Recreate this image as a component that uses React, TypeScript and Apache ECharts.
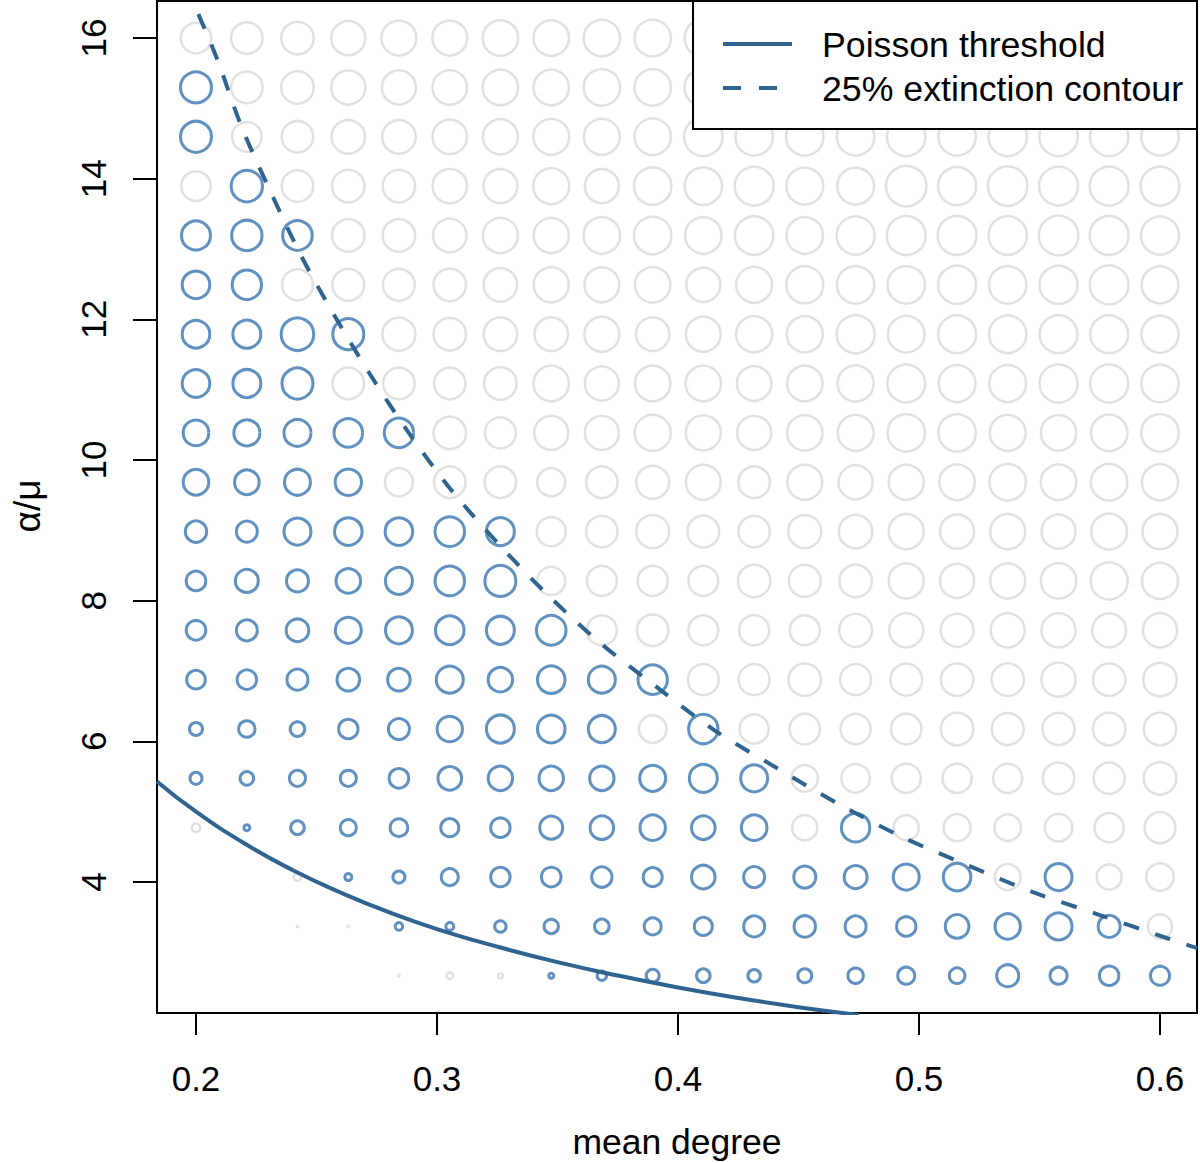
import React, { useEffect, useRef } from "react";
import * as echarts from "echarts";

// x positions of the grid (mean degree)
const meanDegree = [
  0.2, 0.2211, 0.2421, 0.2632, 0.2842, 0.3053, 0.3263, 0.3474, 0.3684, 0.3895,
  0.4105, 0.4316, 0.4526, 0.4737, 0.4947, 0.5158, 0.5368, 0.5579, 0.5789, 0.6,
];
// y positions of the grid (alpha/mu), listed from top row to bottom row
const alphaOverMu = [
  16.0, 15.298, 14.596, 13.895, 13.193, 12.491, 11.789, 11.088, 10.386, 9.684,
  8.982, 8.281, 7.579, 6.877, 6.175, 5.474, 4.772, 4.07, 3.368, 2.667,
];
// B = blue circle, G = grey circle, . = nothing (top row first)
const cellClass = [
  "GGGGGGGGGGGGGGGGGGGG",
  "BGGGGGGGGGGGGGGGGGGG",
  "BGGGGGGGGGGGGGGGGGGG",
  "GBGGGGGGGGGGGGGGGGGG",
  "BBBGGGGGGGGGGGGGGGGG",
  "BBGGGGGGGGGGGGGGGGGG",
  "BBBBGGGGGGGGGGGGGGGG",
  "BBBGGGGGGGGGGGGGGGGG",
  "BBBBBGGGGGGGGGGGGGGG",
  "BBBBGGGGGGGGGGGGGGGG",
  "BBBBBBBGGGGGGGGGGGGG",
  "BBBBBBBGGGGGGGGGGGGG",
  "BBBBBBBBGGGGGGGGGGGG",
  "BBBBBBBBBBGGGGGGGGGG",
  "BBBBBBBBBGBGGGGGGGGG",
  "BBBBBBBBBBBBGGGGGGGG",
  "GBBBBBBBBBBBGBGGGGGG",
  "..GBBBBBBBBBBBBBGBGG",
  "..GGBBBBBBBBBBBBBBBG",
  "....GGGBBBBBBBBBBBBB",
];
// circle radius (px, outer) per cell, top row first
const radius = [
  [16.5, 17, 17.5, 18.3, 18.7, 18.7, 19, 19, 19.5, 19.5, 20, 20, 20, 20, 20, 20, 20, 20, 20, 20],
  [17, 17, 17.5, 18.3, 18.3, 18.5, 19, 19, 19.5, 19.5, 20, 20, 20, 20, 20, 20, 20, 20, 20, 20],
  [17, 16, 17, 18, 18, 18.5, 18.8, 19.2, 19.2, 19.5, 20.5, 20, 20, 20, 20.5, 20, 20.5, 20.5, 20.5, 20],
  [16, 17.2, 17, 17.5, 17.5, 18.5, 18.3, 19.2, 18.3, 20, 20, 20.7, 19.7, 19.7, 21.5, 20.3, 21, 20.7, 20.7, 20.7],
  [16, 16.7, 16.3, 17.5, 17.5, 18, 18.8, 18.8, 19.5, 20, 19.5, 20.5, 19.5, 20.3, 20.7, 20.7, 20.5, 21, 20.7, 20.3],
  [15.3, 16.2, 16.7, 17.2, 17.2, 17.5, 18, 18.8, 18.7, 19, 18.3, 19.2, 19.8, 20, 20, 20.3, 20, 20.3, 20.7, 19.7],
  [15.3, 15.5, 17.8, 17, 17.8, 17.5, 18, 18, 18.7, 18, 18.7, 19.3, 19.3, 20.3, 19.5, 20.2, 20, 20.2, 20.2, 19.8],
  [15.3, 15.5, 17, 17, 17, 17, 17.5, 19, 18.3, 19, 19, 18.5, 19, 19.3, 20.2, 19.7, 19.7, 20.3, 20.3, 20],
  [14.3, 14.5, 15, 15.8, 16.2, 17.5, 16.7, 18.3, 18.3, 19.3, 18.8, 18.3, 19, 19.2, 20, 20, 19.2, 19, 19.5, 20],
  [14.3, 13.8, 14.5, 14.7, 15.3, 17, 17, 15.3, 17, 17.7, 18.7, 17, 18.7, 18.3, 18.8, 19, 19.5, 19, 19.5, 19.3],
  [12.2, 12, 15, 15.3, 15.3, 16.3, 15.5, 15.8, 17, 17.8, 17.2, 17, 17.8, 18, 18.8, 18.3, 18.8, 18.3, 19.2, 18.8],
  [11.3, 13, 12.5, 13.8, 15, 16.3, 17, 15.3, 16.2, 16.3, 16.2, 17.5, 17.2, 17.5, 18.8, 18.3, 18.8, 19, 19.8, 19.2],
  [11.3, 12, 12.8, 14.5, 15, 15.8, 15.5, 16.3, 16.2, 17, 16.2, 16.3, 16.2, 17.7, 18.3, 17.7, 18.3, 18.3, 18.2, 18.3],
  [10.8, 11.2, 12, 12.8, 12.8, 15, 13.7, 15.3, 15, 16.2, 16.7, 16.7, 17.5, 16.7, 17.2, 17.5, 17.5, 18.3, 17.5, 18],
  [8, 9.7, 8.8, 11.2, 12, 14.2, 15.5, 15.3, 15, 15, 16.2, 15.8, 16.5, 16.3, 16.5, 17.5, 17.2, 17.3, 17.5, 17.5],
  [7.5, 8.3, 9.5, 9.5, 11.3, 13.3, 13.7, 13.7, 13.7, 14.5, 15.5, 15, 14.5, 15.5, 15.8, 15.8, 15.8, 17, 16.8, 17.5],
  [5.5, 4.5, 8.3, 9.5, 10.3, 10.5, 11.2, 13, 13.3, 14.2, 13.3, 14.3, 13.8, 15.7, 13.8, 14.7, 14.5, 15, 15.8, 16.7],
  [0, 0, 5, 5, 7.5, 10, 11.2, 11.3, 11.7, 11, 13.3, 12, 12.5, 13, 14.5, 15.3, 14.2, 15, 13.8, 15],
  [0, 0, 2, 2, 5.3, 5.5, 7.2, 8.7, 8.8, 10, 10.5, 12, 12.2, 12, 11.2, 13.3, 14.2, 15, 12.5, 13.3],
  [0, 0, 0, 0, 2, 4.5, 3.8, 4, 6.2, 8, 8.3, 7.7, 8.5, 9.2, 10, 9.3, 12.5, 10, 11.2, 11],
];

// Poisson threshold curve
const poissonX = [0.1838, 0.2, 0.22, 0.24, 0.26, 0.28, 0.3, 0.325, 0.35, 0.375, 0.4, 0.425, 0.45, 0.475];
const poissonY = [5.43, 5.0, 4.55, 4.17, 3.85, 3.57, 3.33, 3.08, 2.86, 2.67, 2.5, 2.35, 2.22, 2.11];

// 25% extinction contour
const contourX = [0.201, 0.209, 0.219, 0.231, 0.244, 0.257, 0.272, 0.288, 0.306, 0.326, 0.346, 0.368, 0.392, 0.415, 0.441, 0.466, 0.493, 0.52, 0.547, 0.575, 0.603, 0.6154];
const contourY = [16.34, 15.68, 14.73, 13.81, 12.88, 12.08, 11.23, 10.4, 9.57, 8.79, 8.08, 7.39, 6.75, 6.16, 5.62, 5.12, 4.64, 4.24, 3.86, 3.53, 3.2, 3.06];

const xTicks = [0.2, 0.3, 0.4, 0.5, 0.6];
const yTicks = [4, 6, 8, 10, 12, 14, 16];

const legendLabels = ["Poisson threshold", "25% extinction contour"];
const xTitle = "mean degree";
const yTitle = "α/μ";

const FONT = "'Liberation Sans', Arial, Helvetica, sans-serif";
const BLUE = "#3876b0";
const GREY = "#d9d9d9";
const LINE = "#2f6490";

export default function App() {
  const ref = useRef<HTMLDivElement>(null);

  useEffect(() => {
    if (!ref.current) return;
    const chart = echarts.init(ref.current, undefined, { renderer: "svg" });

    const blueData: number[][] = [];
    const greyData: number[][] = [];
    cellClass.forEach((row, i) => {
      for (let j = 0; j < row.length; j++) {
        const c = row[j];
        if (c === ".") continue;
        const pt = [meanDegree[j], alphaOverMu[i], radius[i][j]];
        if (c === "B") blueData.push(pt);
        else greyData.push(pt);
      }
    });

    const option: any = {
      animation: false,
      backgroundColor: "#fff",
      grid: {
        left: 157,
        right: 3,
        top: 1,
        bottom: 150,
        show: true,
        borderColor: "#000",
        borderWidth: 2,
        backgroundColor: "transparent",
      },
      xAxis: {
        type: "value",
        min: 0.18382,
        max: 0.61535,
        splitLine: { show: false },
        axisLine: { show: true, onZero: false, lineStyle: { color: "#000", width: 2 } },
        axisTick: { show: true, customValues: xTicks, length: 22, lineStyle: { color: "#000", width: 2 } },
        axisLabel: {
          customValues: xTicks,
          formatter: (v: number) => v.toFixed(1),
          fontSize: 35,
          fontFamily: FONT,
          color: "#000",
          margin: 48,
        },
      },
      yAxis: {
        type: "value",
        min: 2.137,
        max: 16.527,
        splitLine: { show: false },
        axisLine: { show: true, onZero: false, lineStyle: { color: "#000", width: 2 } },
        axisTick: { show: true, customValues: yTicks, length: 24, lineStyle: { color: "#000", width: 2 } },
        axisLabel: {
          customValues: yTicks,
          formatter: (v: number) => String(Math.round(v)),
          rotate: 90,
          fontSize: 35,
          fontFamily: FONT,
          color: "#000",
          margin: 46,
        },
      },
      series: [
        {
          type: "scatter",
          data: greyData,
          symbol: "circle",
          symbolSize: (v: number[]) => Math.max(2 * v[2] - 2.5, 0.5),
          itemStyle: { color: "rgba(0,0,0,0)", borderColor: GREY, borderWidth: 2.5 },
          z: 2,
        },
        {
          type: "scatter",
          data: blueData,
          symbol: "circle",
          symbolSize: (v: number[]) => Math.max(2 * v[2] - 3, 0.5),
          itemStyle: { color: "rgba(0,0,0,0)", borderColor: BLUE, borderWidth: 3 },
          z: 3,
        },
        {
          type: "line",
          data: poissonX.map((x, i) => [x, poissonY[i]]),
          smooth: true,
          symbol: "none",
          clip: true,
          lineStyle: { color: LINE, width: 4 },
          z: 4,
        },
        {
          type: "line",
          data: contourX.map((x, i) => [x, contourY[i]]),
          smooth: 0.3,
          symbol: "none",
          clip: true,
          lineStyle: { color: LINE, width: 4, type: [16, 17], cap: "butt" },
          z: 4,
        },
      ],
      graphic: [
        {
          type: "rect",
          shape: { x: 693, y: 1, width: 504, height: 128 },
          style: { fill: "#fff", stroke: "#000", lineWidth: 2 },
          z: 100,
        },
        {
          type: "line",
          shape: { x1: 723, y1: 44, x2: 792, y2: 44 },
          style: { stroke: LINE, lineWidth: 4 },
          z: 101,
        },
        {
          type: "line",
          shape: { x1: 723, y1: 88, x2: 777, y2: 88 },
          style: { stroke: LINE, lineWidth: 4, lineDash: [18, 18] },
          z: 101,
        },
        {
          type: "text",
          x: 822,
          y: 45,
          style: { text: legendLabels[0], font: `35.7px ${FONT}`, fill: "#000", textVerticalAlign: "middle", textAlign: "left" },
          z: 101,
        },
        {
          type: "text",
          x: 822,
          y: 89,
          style: { text: legendLabels[1], font: `35.7px ${FONT}`, fill: "#000", textVerticalAlign: "middle", textAlign: "left" },
          z: 101,
        },
        {
          type: "text",
          x: 677,
          y: 1142,
          style: { text: xTitle, font: `35.5px ${FONT}`, fill: "#000", textVerticalAlign: "middle", textAlign: "center" },
          z: 101,
        },
        {
          type: "text",
          x: 27,
          y: 506,
          rotation: Math.PI / 2,
          style: { text: yTitle, font: `37px ${FONT}`, fill: "#000", textVerticalAlign: "middle", textAlign: "center" },
          z: 101,
        },
      ],
    };

    chart.setOption(option);
    return () => chart.dispose();
  }, []);

  return (
    <div
      ref={ref}
      style={{ position: "fixed", left: 0, top: 0, width: 1200, height: 1163, background: "#fff" }}
    />
  );
}
